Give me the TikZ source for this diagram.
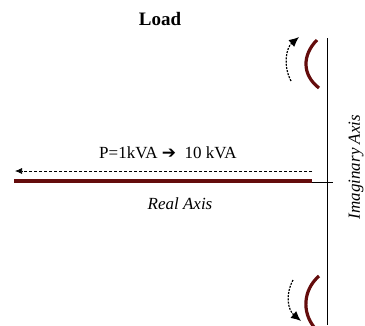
\documentclass[tikz,border=0pt]{standalone}
\usepackage{fontspec}
\setmainfont{Liberation Serif}
\newfontfamily\timesfont{Liberation Serif}
\newfontfamily\symfont{DejaVu Sans}
\usetikzlibrary{arrows.meta}
\definecolor{loadred}{RGB}{100,12,12}
\begin{document}
\begin{tikzpicture}[x=1pt,y=-1pt,
	pole/.style={loadred, line width=3.2pt},
	move/.style={dashed, dash pattern=on 2pt off 1.2pt, line width=1.2pt, -{Latex[length=10pt,width=9pt]}},
	lbl/.style={inner sep=0pt, font=\timesfont\fontsize{17}{20}\selectfont}]
	\useasboundingbox (0,0) rectangle (365,325);
	% axes
	\coordinate (origin) at (327,182);
	\draw[line width=0.6pt] (327,38) -- (327,325);
	\draw[line width=0.6pt] (312,182) -- (333,182);
	\draw[pole] (14,181) -- (312,181);
	\draw (160,19) node[lbl, font=\timesfont\fontsize{19}{22}\selectfont\bfseries] (load) {Load};
	\draw (180,204) node[lbl, font=\timesfont\fontsize{17}{20}\selectfont\itshape] (real) {Real Axis};
	\draw (356,167) node[lbl, rotate=90, font=\timesfont\fontsize{17}{20}\selectfont\itshape] (imag) {Imaginary Axis};
	
	% power sweep
	\coordinate (start) at (312,171);
	\coordinate (stop) at (15,171);
	\draw[densely dashed, line width=0.7pt, -{Latex[length=7pt,width=6pt]}] (start) -- (stop);
	\draw (168,153) node[lbl] (power) {P=1kVA {\symfont ➔}\ \ 10 kVA};
	
	% poles and their movement
	\draw[pole] (317,40) .. controls (302,55) and (302,75) .. (319,88);
	\draw[pole] (319,276) .. controls (303,290) and (302,312) .. (314,327);
	\draw[move] (291,81) .. controls (283,66) and (286,48) .. (299,37);
	\draw[move] (293,280) .. controls (285,295) and (288,310) .. (301,321);
\end{tikzpicture}
\end{document}
